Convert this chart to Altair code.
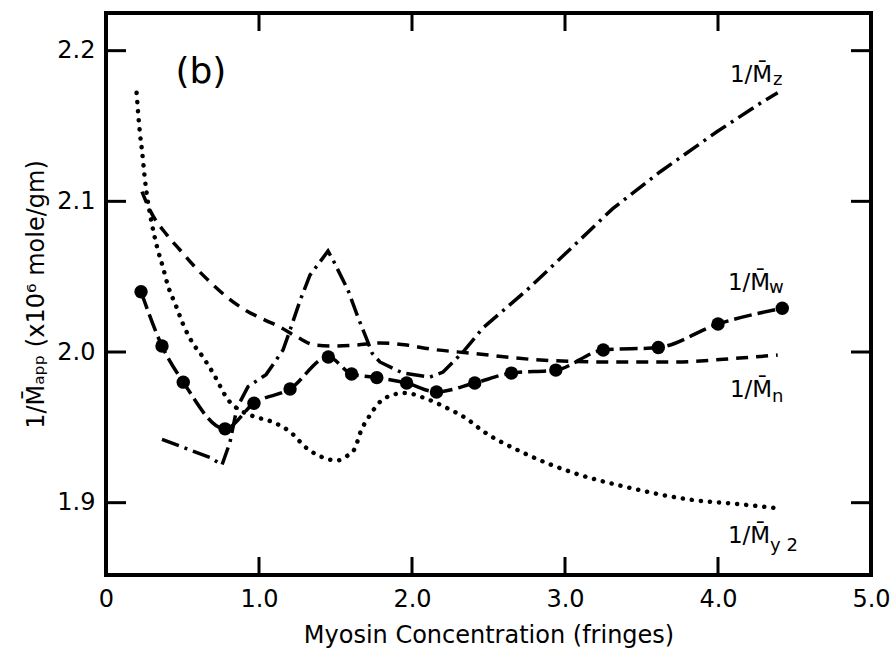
import altair as alt
import pandas as pd

# ---- data ----
mw_x = [0.229, 0.366, 0.505, 0.778, 0.967, 1.203, 1.453, 1.605, 1.77, 1.965, 2.16, 2.41, 2.65, 2.94, 3.25, 3.61, 4.0, 4.42]
mw_y = [2.040, 2.004, 1.980, 1.949, 1.966, 1.9755, 1.9967, 1.9854, 1.983, 1.9794, 1.9735, 1.9794, 1.986, 1.988, 2.0013, 2.003, 2.0186, 2.029]

mn_x = [0.235, 0.288, 0.399, 0.484, 0.582, 0.68, 0.79, 0.908, 1.039, 1.137, 1.248, 1.366, 1.5, 1.64, 1.79, 1.967, 2.118, 2.38, 2.84, 3.27, 3.71, 4.14, 4.39]
mn_y = [2.1065, 2.094, 2.0776, 2.0677, 2.0564, 2.0465, 2.0365, 2.028, 2.0212, 2.0166, 2.010, 2.0046, 2.004, 2.0046, 2.006, 2.0046, 2.002, 1.9993, 1.9947, 1.9934, 1.9934, 1.996, 1.998]

mz_x = [0.366, 0.68, 0.758, 0.81, 0.856, 0.928, 1.046, 1.157, 1.203, 1.268, 1.333, 1.451, 1.484, 1.582, 1.647, 1.706, 1.739, 1.79, 1.94, 2.118, 2.203, 2.333, 2.464, 2.75, 3.0, 3.31, 3.62, 3.99, 4.29, 4.39]
mz_y = [1.942, 1.930, 1.925, 1.940, 1.963, 1.977, 1.985, 2.0013, 2.0146, 2.034, 2.051, 2.067, 2.061, 2.041, 2.023, 2.008, 1.9993, 1.9934, 1.986, 1.9834, 1.9867, 2.0, 2.016, 2.041, 2.065, 2.095, 2.1195, 2.146, 2.166, 2.172]

my2_x = [0.2, 0.222, 0.235, 0.255, 0.30, 0.333, 0.373, 0.405, 0.458, 0.503, 0.575, 0.615, 0.70, 0.80, 0.90, 0.974, 1.09, 1.203, 1.314, 1.418, 1.51, 1.575, 1.627, 1.66, 1.725, 1.824, 1.954, 2.098, 2.229, 2.36, 2.457, 2.73, 3.05, 3.40, 3.82, 4.14, 4.37]
my2_y = [2.172, 2.145, 2.134, 2.114, 2.085, 2.070, 2.056, 2.044, 2.0305, 2.0186, 2.0046, 1.9993, 1.986, 1.968, 1.960, 1.957, 1.9535, 1.947, 1.936, 1.930, 1.928, 1.931, 1.936, 1.946, 1.958, 1.9695, 1.9728, 1.9688, 1.9628, 1.9555, 1.948, 1.933, 1.920, 1.9104, 1.902, 1.899, 1.8965]

x_ticks = [1.0, 2.0, 3.0, 4.0]
y_ticks = [1.9, 2.0, 2.1, 2.2]
x_labels = [0, 1, 2, 3, 4, 5]

lab_main = ["1/M\u0304", "1/M\u0304", "1/M\u0304", "1/M\u0304"]
lab_main_x = [4.078, 4.065, 4.078, 4.065]
lab_main_y = [2.179, 2.041, 1.970, 1.873]
lab_sub = ["z", "w", "n", "y 2"]
lab_sub_x = [4.36, 4.333, 4.353, 4.34]
lab_sub_y = [2.177, 2.039, 1.967, 1.868]

panel_text = ["(b)"]
panel_x = [0.62]
panel_y = [2.186]

W, H = 765, 562
FONT = "DejaVu Sans"

xs = alt.Scale(domain=[0, 5], nice=False, zero=False)
ys = alt.Scale(domain=[1.852, 2.225], nice=False, zero=False)

def df(x, y):
    return pd.DataFrame({"x": x, "y": y})

xenc = alt.X("x:Q", scale=xs, axis=alt.Axis(
    values=x_labels, ticks=False, domain=False, grid=False, labelFlush=False,
    labelOverlap=False, labelFontSize=24, labelPadding=12, labelColor="black",
    labelFont=FONT, title="Myosin Concentration (fringes)", titleFont=FONT,
    titleFontSize=24, titleFontWeight="normal", titlePadding=12, titleColor="black",
    labelExpr="datum.value == 0 ? '0' : format(datum.value, '.1f')"))
yenc = alt.Y("y:Q", scale=ys, axis=alt.Axis(
    values=y_ticks, ticks=False, domain=False, grid=False, labelFontSize=24,
    labelPadding=11, labelColor="black", labelFont=FONT, format=".1f",
    title="1/M\u0304\u2090\u209a\u209a  (x10\u2076 mole/gm)", titleFont=FONT,
    titleFontSize=24, titleFontWeight="normal", titlePadding=8, titleColor="black"))

def line(x, y, dash, cap="butt", sw=3.5, interp="monotone"):
    return alt.Chart(df(x, y)).mark_line(
        color="black", strokeWidth=sw, strokeDash=dash, strokeCap=cap,
        interpolate=interp).encode(x=alt.X("x:Q", scale=xs), y=alt.Y("y:Q", scale=ys))

base = alt.Chart(df(mw_x, mw_y)).mark_line(
    color="black", strokeWidth=3.5, strokeDash=[18, 6], interpolate="monotone"
).encode(x=xenc, y=yenc)
mw_pts = alt.Chart(df(mw_x, mw_y)).mark_circle(color="black", size=180, opacity=1).encode(
    x=alt.X("x:Q", scale=xs), y=alt.Y("y:Q", scale=ys))

mn_line = line(mn_x, mn_y, [12, 8])
mz_line = line(mz_x, mz_y, [18, 6, 3, 6], interp="linear")
my2_line = line(my2_x, my2_y, [0.1, 9], cap="round", sw=4.5)

xt = pd.DataFrame({"t": x_ticks})
yt = pd.DataFrame({"t": y_ticks})
tick_b = alt.Chart(xt).mark_rule(color="black", strokeWidth=3).encode(
    x=alt.X("t:Q", scale=xs), y=alt.value(H), y2=alt.value(H - 18))
tick_t = alt.Chart(xt).mark_rule(color="black", strokeWidth=3).encode(
    x=alt.X("t:Q", scale=xs), y=alt.value(0), y2=alt.value(18))
tick_l = alt.Chart(yt).mark_rule(color="black", strokeWidth=3).encode(
    y=alt.Y("t:Q", scale=ys), x=alt.value(0), x2=alt.value(20))
tick_r = alt.Chart(yt).mark_rule(color="black", strokeWidth=3).encode(
    y=alt.Y("t:Q", scale=ys), x=alt.value(W), x2=alt.value(W - 20))

lm = alt.Chart(pd.DataFrame({"x": lab_main_x, "y": lab_main_y, "t": lab_main})).mark_text(
    align="left", baseline="alphabetic", font=FONT, fontSize=23, color="black").encode(
    x=alt.X("x:Q", scale=xs), y=alt.Y("y:Q", scale=ys), text="t:N")
ls = alt.Chart(pd.DataFrame({"x": lab_sub_x, "y": lab_sub_y, "t": lab_sub})).mark_text(
    align="left", baseline="alphabetic", font=FONT, fontSize=18, color="black").encode(
    x=alt.X("x:Q", scale=xs), y=alt.Y("y:Q", scale=ys), text="t:N")
panel = alt.Chart(pd.DataFrame({"x": panel_x, "y": panel_y, "t": panel_text})).mark_text(
    align="center", baseline="middle", font=FONT, fontSize=36, color="black").encode(
    x=alt.X("x:Q", scale=xs), y=alt.Y("y:Q", scale=ys), text="t:N")

chart = alt.layer(base, mw_pts, mn_line, mz_line, my2_line,
                  tick_b, tick_t, tick_l, tick_r, lm, ls, panel).properties(
    width=W, height=H,
    autosize=alt.AutoSizeParams(type="none"),
    padding={"left": 106, "top": 13, "right": 19, "bottom": 82},
    background="white",
).configure_view(stroke="black", strokeWidth=4)

chart.save("out.html", embed_options={"renderer": "svg", "actions": False})
